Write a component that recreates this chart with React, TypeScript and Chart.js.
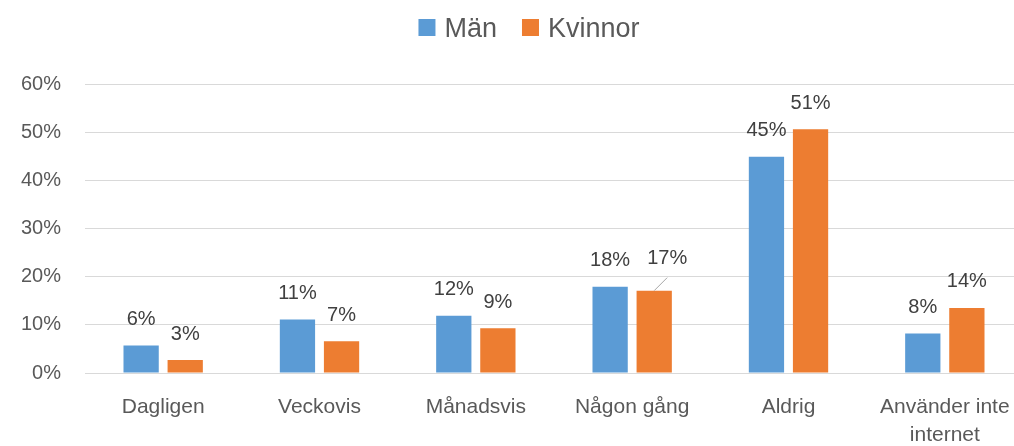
import React, { useEffect, useRef } from 'react';
import { Chart, registerables } from 'chart.js';

Chart.register(...registerables);

const categories: (string | string[])[] = [
  'Dagligen',
  'Veckovis',
  'Månadsvis',
  'Någon gång',
  'Aldrig',
  ['Använder inte', 'internet'],
];
const seriesNames = ['Män', 'Kvinnor'];
const menValues = [5.7, 11.1, 11.9, 17.9, 44.9, 8.2];
const womenValues = [2.7, 6.6, 9.3, 17.1, 50.6, 13.5];
const yMax = 60;
const yStep = 10;

const FONT = '"Liberation Sans", Arial, Helvetica, sans-serif';

const dataLabels = {
  id: 'dataLabels',
  afterDatasetsDraw(chart: any) {
    const ctx = chart.ctx;
    ctx.save();
    ctx.font = `20px ${FONT}`;
    ctx.fillStyle = '#404040';
    ctx.textAlign = 'center';
    ctx.textBaseline = 'middle';
    chart.data.datasets.forEach((ds: any, di: number) => {
      const meta = chart.getDatasetMeta(di);
      meta.data.forEach((bar: any, i: number) => {
        const v = ds.data[i];
        let x = bar.x;
        let y = bar.y - 26;
        // Excel moved this label aside and drew a leader line
        if (di === 1 && i === 3) {
          x = bar.x + 13;
          y = bar.y - 32;
          ctx.save();
          ctx.strokeStyle = '#a6a6a6';
          ctx.lineWidth = 1;
          ctx.beginPath();
          ctx.moveTo(x, y + 19);
          ctx.lineTo(bar.x, bar.y);
          ctx.stroke();
          ctx.restore();
        }
        ctx.fillText(Math.round(v) + '%', x, y);
      });
    });
    ctx.restore();
  },
};

const topLegend = {
  id: 'topLegend',
  afterDraw(chart: any) {
    const ctx = chart.ctx;
    ctx.save();
    ctx.font = `27px ${FONT}`;
    ctx.textBaseline = 'alphabetic';
    ctx.textAlign = 'left';
    const box = 17;
    const gapBoxText = 9;
    const gapItems = 25;
    const items = chart.data.datasets.map((ds: any) => ({
      text: ds.label,
      color: ds.backgroundColor,
      w: ctx.measureText(ds.label).width,
    }));
    const total =
      items.reduce((s: number, it: any) => s + box + gapBoxText + it.w, 0) +
      gapItems * (items.length - 1);
    let x = chart.width / 2 - total / 2;
    const baseline = 37;
    items.forEach((it: any) => {
      ctx.fillStyle = it.color;
      ctx.fillRect(x, 19, box, box);
      x += box + gapBoxText;
      ctx.fillStyle = '#595959';
      ctx.fillText(it.text, x, baseline);
      x += it.w + gapItems;
    });
    ctx.restore();
  },
};

export default function App() {
  const ref = useRef<HTMLCanvasElement>(null);
  useEffect(() => {
    const chart = new Chart(ref.current!, {
      type: 'bar',
      data: {
        labels: categories as any,
        datasets: [
          {
            label: seriesNames[0],
            data: menValues,
            backgroundColor: '#5B9BD5',
            categoryPercentage: 0.564,
            barPercentage: 0.8,
          },
          {
            label: seriesNames[1],
            data: womenValues,
            backgroundColor: '#ED7D31',
            categoryPercentage: 0.564,
            barPercentage: 0.8,
          },
        ],
      },
      options: {
        animation: false,
        responsive: false,
        devicePixelRatio: 1,
        layout: { padding: { top: 84, left: 0, right: 0, bottom: 0 } },
        plugins: {
          legend: { display: false },
          tooltip: { enabled: false },
        },
        scales: {
          x: {
            grid: { display: false },
            border: { display: true, color: '#d9d9d9', width: 1 },
            ticks: {
              color: '#595959',
              font: { family: FONT, size: 21, lineHeight: 1.3 },
              padding: 13,
              maxRotation: 0,
              autoSkip: false,
            },
            afterFit: (s: any) => {
              s.height = 73;
            },
          },
          y: {
            min: 0,
            max: yMax,
            grid: { color: '#d9d9d9', lineWidth: 1, drawTicks: false },
            border: { display: false },
            ticks: {
              stepSize: yStep,
              color: '#595959',
              font: { family: FONT, size: 20 },
              padding: 24,
              callback: (v: any) => v + '%',
            },
            afterFit: (s: any) => {
              s.width = 85;
            },
          },
          yRight: {
            position: 'right',
            display: true,
            grid: { display: false },
            border: { display: false },
            ticks: { display: false },
            afterFit: (s: any) => {
              s.width = 35;
            },
          },
        },
      },
      plugins: [dataLabels, topLegend],
    });
    return () => chart.destroy();
  }, []);
  return (
    <div
      style={{
        position: 'absolute',
        left: 0,
        top: 0,
        width: 1014,
        height: 446,
        overflow: 'hidden',
        background: '#ffffff',
      }}
    >
      <canvas
        ref={ref}
        width={1058}
        height={446}
        style={{ display: 'block', width: 1058, height: 446 }}
      />
    </div>
  );
}
